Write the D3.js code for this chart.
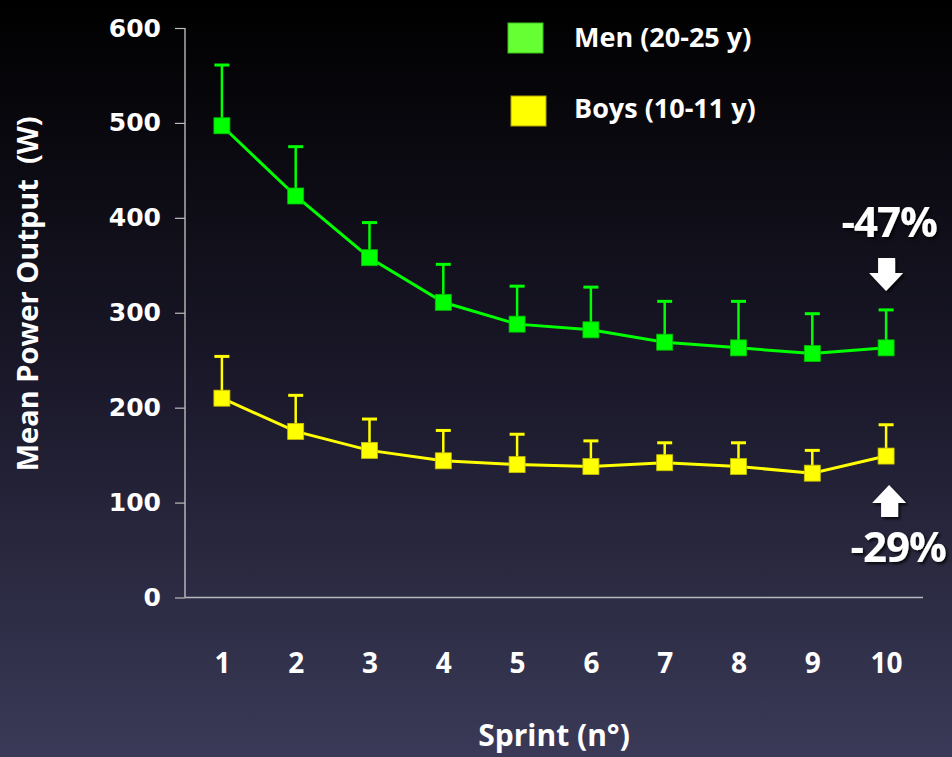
<!DOCTYPE html>
<html>
<head>
<meta charset="utf-8">
<script src="https://cdn.jsdelivr.net/npm/d3@7"></script>
<style>
  html, body { margin: 0; padding: 0; background: #000; }
  svg { display: block; }
</style>
</head>
<body>
<div id="chart-area"></div>
<script>
// chart data
const sprints = [1, 2, 3, 4, 5, 6, 7, 8, 9, 10]
const menMean = [497, 423, 358, 311, 288, 282, 269, 263, 257, 263]
const menErr = [64, 52, 37, 40, 40, 45, 43, 49, 42, 40]
const boysMean = [210, 175, 155, 144, 140, 138, 142, 138, 131, 149]
const boysErr = [44, 38, 33, 32, 32, 27, 21, 25, 24, 33]
const yTicks = [0, 100, 200, 300, 400, 500, 600]
const legendLabels = ["Men (20-25 y)", "Boys (10-11 y)"]
const changeLabels = ["-47%", "-29%"]

const W = 952, H = 757
const MARGIN = { LEFT: 185, RIGHT: 29, TOP: 28, BOTTOM: 159 }

const svg = d3.select("#chart-area").append("svg")
  .attr("width", W)
  .attr("height", H)

const defs = svg.append("defs")
const grad = defs.append("linearGradient")
  .attr("id", "bg").attr("x1", 0).attr("y1", 0).attr("x2", 0).attr("y2", 1)
grad.append("stop").attr("offset", "0%").attr("stop-color", "#000000")
grad.append("stop").attr("offset", "50%").attr("stop-color", "#1a1829")
grad.append("stop").attr("offset", "100%").attr("stop-color", "#3a3a58")

const shadow = defs.append("filter").attr("id", "shadow")
  .attr("x", "-20%").attr("y", "-20%").attr("width", "150%").attr("height", "150%")
shadow.append("feDropShadow")
  .attr("dx", 2).attr("dy", 2).attr("stdDeviation", 1.5)
  .attr("flood-color", "#000").attr("flood-opacity", 0.8)

svg.append("rect").attr("width", W).attr("height", H).attr("fill", "url(#bg)")

const x = d3.scalePoint()
  .domain(sprints)
  .range([MARGIN.LEFT, W - MARGIN.RIGHT])
  .padding(0.5)

const y = d3.scaleLinear()
  .domain([0, 600])
  .range([H - MARGIN.BOTTOM - 0.5, MARGIN.TOP])

// Y axis
const yAxis = svg.append("g")
  .attr("transform", `translate(${MARGIN.LEFT},0)`)
  .call(d3.axisLeft(y).tickValues(yTicks).tickSize(10).tickPadding(14))
yAxis.select(".domain").attr("stroke", "#d8d8d8").attr("stroke-width", 1.2)
  .attr("d", `M0,${y(600)}V${y(0)}`)
yAxis.selectAll(".tick line").attr("stroke", "#bdbdbd").attr("stroke-width", 1.2)
yAxis.selectAll(".tick text")
  .attr("fill", "#fff")
  .attr("font-family", "DejaVu Sans")
  .attr("font-weight", "bold")
  .attr("font-size", 25)

// X axis
const xAxis = svg.append("g")
  .attr("transform", `translate(0,${y(0)})`)
  .call(d3.axisBottom(x).tickSize(0).tickPadding(56))
xAxis.select(".domain").attr("stroke", "#b8b8c0").attr("stroke-width", 1.5)
  .attr("d", `M${MARGIN.LEFT},0H${W - MARGIN.RIGHT}`)
xAxis.selectAll(".tick text")
  .attr("fill", "#fff")
  .attr("font-family", "Open Sans")
  .attr("font-weight", "bold")
  .attr("font-size", 28)

// axis titles
svg.append("text")
  .attr("transform", `translate(38,${y(320)}) rotate(-90)`)
  .attr("text-anchor", "middle")
  .attr("fill", "#fff")
  .attr("font-family", "Open Sans")
  .attr("font-weight", "bold")
  .attr("font-size", 29)
  .attr("xml:space", "preserve")
  .text("Mean Power Output  (W)")

svg.append("text")
  .attr("x", (MARGIN.LEFT + W - MARGIN.RIGHT) / 2)
  .attr("y", 746)
  .attr("text-anchor", "middle")
  .attr("fill", "#fff")
  .attr("font-family", "Open Sans")
  .attr("font-weight", "bold")
  .attr("font-size", 30)
  .text("Sprint (n°)")

const series = [
  { name: legendLabels[0], mean: menMean, err: menErr, color: "#00ff00", edge: "#00c000", legend: "#66ff33" },
  { name: legendLabels[1], mean: boysMean, err: boysErr, color: "#ffff00", edge: "#c8c000", legend: "#ffff00" }
]

const line = d3.line()
  .x(d => x(d.s))
  .y(d => y(d.v))

series.forEach(sr => {
  const pts = sprints.map((s, i) => ({ s: s, v: sr.mean[i], e: sr.err[i] }))
  const g = svg.append("g")

  // error bars (upper only)
  g.selectAll("line.err")
    .data(pts)
    .join("line")
    .attr("x1", d => x(d.s)).attr("x2", d => x(d.s))
    .attr("y1", d => y(d.v)).attr("y2", d => y(d.v + d.e))
    .attr("stroke", sr.color).attr("stroke-width", 2.5)
  g.selectAll("line.cap")
    .data(pts)
    .join("line")
    .attr("x1", d => x(d.s) - 7.5).attr("x2", d => x(d.s) + 7.5)
    .attr("y1", d => y(d.v + d.e)).attr("y2", d => y(d.v + d.e))
    .attr("stroke", sr.color).attr("stroke-width", 3)

  g.append("path")
    .datum(pts)
    .attr("d", line)
    .attr("fill", "none")
    .attr("stroke", sr.color)
    .attr("stroke-width", 3)

  g.selectAll("rect")
    .data(pts)
    .join("rect")
    .attr("x", d => x(d.s) - 8)
    .attr("y", d => y(d.v) - 8)
    .attr("width", 16).attr("height", 16)
    .attr("fill", sr.color)
    .attr("stroke", sr.edge).attr("stroke-width", 0.8)
})

// legend
const legend = svg.append("g")
series.forEach((sr, i) => {
  legend.append("rect")
    .attr("x", 508 + i * 3).attr("y", 23 + i * 73)
    .attr("width", 35).attr("height", 30)
    .attr("fill", sr.legend)
    .attr("stroke", i ? "#b0a000" : "#40c020").attr("stroke-width", 1)
  legend.append("text")
    .attr("x", 574).attr("y", 47 + i * 71)
    .attr("fill", "#fff")
    .attr("font-family", "Open Sans")
    .attr("font-weight", "bold")
    .attr("font-size", 27)
    .text(sr.name)
})

// change annotations at last sprint
const xl = x(sprints[sprints.length - 1])
const notes = svg.append("g").attr("filter", "url(#shadow)")
notes.append("text")
  .attr("x", xl + 3).attr("y", 237)
  .attr("text-anchor", "middle")
  .attr("fill", "#fff")
  .attr("font-family", "Open Sans")
  .attr("font-weight", "bold")
  .attr("font-size", 42)
  .attr("letter-spacing", -1)
  .text(changeLabels[0])
notes.append("text")
  .attr("x", xl + 12).attr("y", 562)
  .attr("text-anchor", "middle")
  .attr("fill", "#fff")
  .attr("font-family", "Open Sans")
  .attr("font-weight", "bold")
  .attr("font-size", 42)
  .attr("letter-spacing", -1)
  .text(changeLabels[1])

// down arrow
notes.append("path")
  .attr("d", `M${xl - 8},258 H${xl + 9} V273 H${xl + 17} L${xl},291 L${xl - 17},273 H${xl - 8} Z`)
  .attr("fill", "#fff")
// up arrow
const ux = xl + 3
notes.append("path")
  .attr("d", `M${ux - 8},517 H${ux + 9} V503 H${ux + 17} L${ux},485 L${ux - 17},503 H${ux - 8} Z`)
  .attr("fill", "#fff")
</script>
</body>
</html>
